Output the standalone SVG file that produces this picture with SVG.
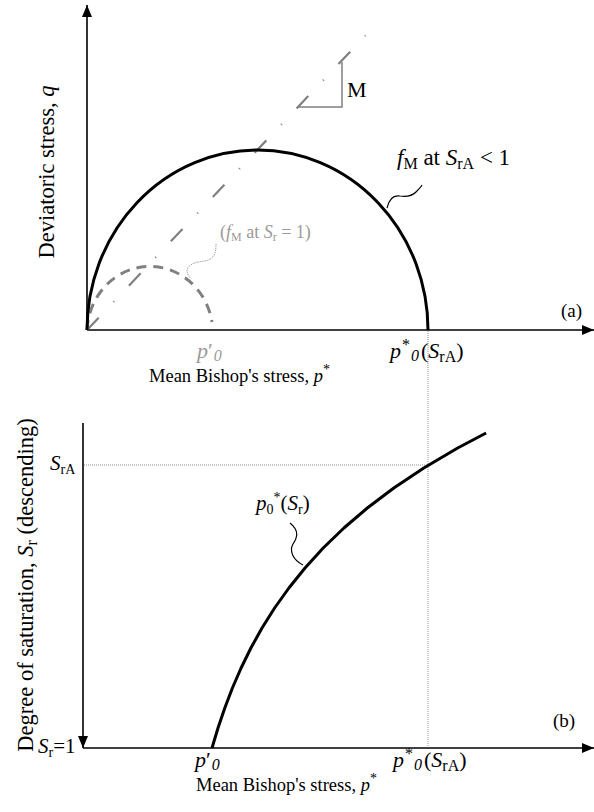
<svg xmlns="http://www.w3.org/2000/svg" width="594" height="812" viewBox="0 0 594 812" font-family="Liberation Serif, Times New Roman, serif">
<defs>
<marker id="arr" viewBox="0 0 12 10" refX="12" refY="5" markerWidth="12" markerHeight="10" markerUnits="userSpaceOnUse" orient="auto">
<path d="M0,0 L12,5 L0,10 Z" fill="#000"/>
</marker>
</defs>
<style>
text{font-family:"Liberation Serif","Times New Roman",serif;font-size:21px;fill:#000}
.i{font-style:italic}
.g{fill:#9a9a9a}
.sm{font-size:14px}
.ss{font-size:16px}
.ax{font-size:18.5px}
.vt{font-size:22.5px}
.axis{stroke:#000;stroke-width:1.6;fill:none}
.guide{stroke:#777;stroke-width:0.8;stroke-dasharray:1 1;fill:none}
</style>
<g id="axes-a">
<line class="axis" x1="87" y1="330" x2="87" y2="5" marker-end="url(#arr)"/>
<line class="axis" x1="87" y1="330" x2="594" y2="330" marker-end="url(#arr)"/>
</g>
<g id="axes-b">
<line class="axis" x1="83" y1="423" x2="83" y2="748" marker-end="url(#arr)"/>
<line class="axis" x1="83" y1="748" x2="594" y2="748" marker-end="url(#arr)"/>
</g>
<g id="guides">
<line class="guide" x1="428" y1="331" x2="428" y2="747"/>
<line class="guide" x1="84" y1="465" x2="428" y2="465"/>
</g>
<g id="critical-state-line">
<line x1="87" y1="330" x2="366" y2="35" stroke="#808080" stroke-width="2.2" stroke-dasharray="17 21.5 1 21.5"/>
<polyline points="298,107 342,107 342,62" fill="none" stroke="#808080" stroke-width="1.5"/>
<text x="347" y="97" style="font-size:22px">M</text>
</g>
<g id="yield-saturated">
<path d="M87,330 A63,67 0 0 1 212,322" fill="none" stroke="#808080" stroke-width="3" stroke-dasharray="10 7"/>
<path d="M216,244 C216,254 214,259 205,261 C194,262 188,265 187,270 C187,274 189,276 191,279" fill="none" stroke="#888" stroke-width="1" stroke-dasharray="1 1"/>
<text class="g" x="220" y="238" style="font-size:18px">(<tspan class="i">f</tspan><tspan style="font-size:12px" dy="3">M</tspan><tspan dy="-3"> at </tspan><tspan class="i">S</tspan><tspan style="font-size:12px" dy="3">r</tspan><tspan dy="-3"> = 1)</tspan></text>
</g>
<g id="yield-unsaturated">
<path d="M87,330 A170.5,180 0 0 1 428,330" fill="none" stroke="#000" stroke-width="3"/>
<path d="M387,208 C389,199 394,195 400,196 C407,197 412,196 416,192 C419,189 421,187 422,185" fill="none" stroke="#000" stroke-width="1.2"/>
<text x="397" y="165" style="font-size:23px"><tspan class="i">f</tspan><tspan class="ss" dy="4">M</tspan><tspan dy="-4"> at </tspan><tspan class="i">S</tspan><tspan class="ss" dy="4">rA</tspan><tspan dy="-4"> &lt; 1</tspan></text>
</g>
<g id="labels-a">
<text class="vt" transform="translate(54,172) rotate(-90)" text-anchor="middle">Deviatoric stress, <tspan class="i">q</tspan></text>
<text class="g" x="197" y="358" style="font-size:22px"><tspan class="i">p</tspan>′<tspan class="i ss" dy="3" dx="1">0</tspan></text>
<text x="390" y="358" style="font-size:22px"><tspan class="i">p</tspan><tspan class="ss" dy="-8" dx="1">*</tspan><tspan class="i ss" dy="11" dx="1">0</tspan><tspan dy="-3" dx="2">(</tspan><tspan class="i">S</tspan><tspan class="ss" dy="4">rA</tspan><tspan dy="-4">)</tspan></text>
<text class="ax" x="149" y="382">Mean Bishop's stress, <tspan class="i">p</tspan><tspan class="sm" dy="-8">*</tspan></text>
<text x="561" y="317" style="font-size:19px">(a)</text>
</g>
<g id="curve-p0">
<path d="M212,748 L218,728 L224.8,708 L232.4,688 L241.1,668 L250.9,648 L262,628 L274.6,608 L288.9,588 L305,568 L323.2,548 L343.9,528 L367.3,508 L393.8,488 L423.8,468 L457.7,448 L486.1,433" fill="none" stroke="#000" stroke-width="3" stroke-linejoin="round"/>
<path d="M290,523 C300,531 297,538 293,544 C289,551 293,560 303,565" fill="none" stroke="#000" stroke-width="1.2"/>
<text x="256" y="510"><tspan class="i">p</tspan><tspan class="sm" dy="4">0</tspan><tspan class="sm" dy="-12">*</tspan><tspan dy="8">(</tspan><tspan class="i">S</tspan><tspan class="sm" dy="4">r</tspan><tspan dy="-4">)</tspan></text>
</g>
<g id="labels-b">
<text class="vt" transform="translate(33,585) rotate(-90)" text-anchor="middle">Degree of saturation, <tspan class="i">S</tspan><tspan class="ss" dy="4">r</tspan><tspan dy="-4"> (descending)</tspan></text>
<text x="50" y="470"><tspan class="i">S</tspan><tspan class="sm" dy="4">rA</tspan></text>
<text x="38" y="753"><tspan class="i">S</tspan><tspan class="sm" dy="4">r</tspan><tspan dy="-4">=1</tspan></text>
<text x="195" y="767" style="font-size:22px"><tspan class="i">p</tspan>′<tspan class="i ss" dy="3" dx="1">0</tspan></text>
<text x="393" y="767" style="font-size:22px"><tspan class="i">p</tspan><tspan class="ss" dy="-8" dx="1">*</tspan><tspan class="i ss" dy="11" dx="1">0</tspan><tspan dy="-3" dx="2">(</tspan><tspan class="i">S</tspan><tspan class="ss" dy="4">rA</tspan><tspan dy="-4">)</tspan></text>
<text class="ax" x="196" y="791">Mean Bishop's stress, <tspan class="i">p</tspan><tspan class="sm" dy="-8">*</tspan></text>
<text x="553" y="727" style="font-size:19px">(b)</text>
</g>
</svg>
